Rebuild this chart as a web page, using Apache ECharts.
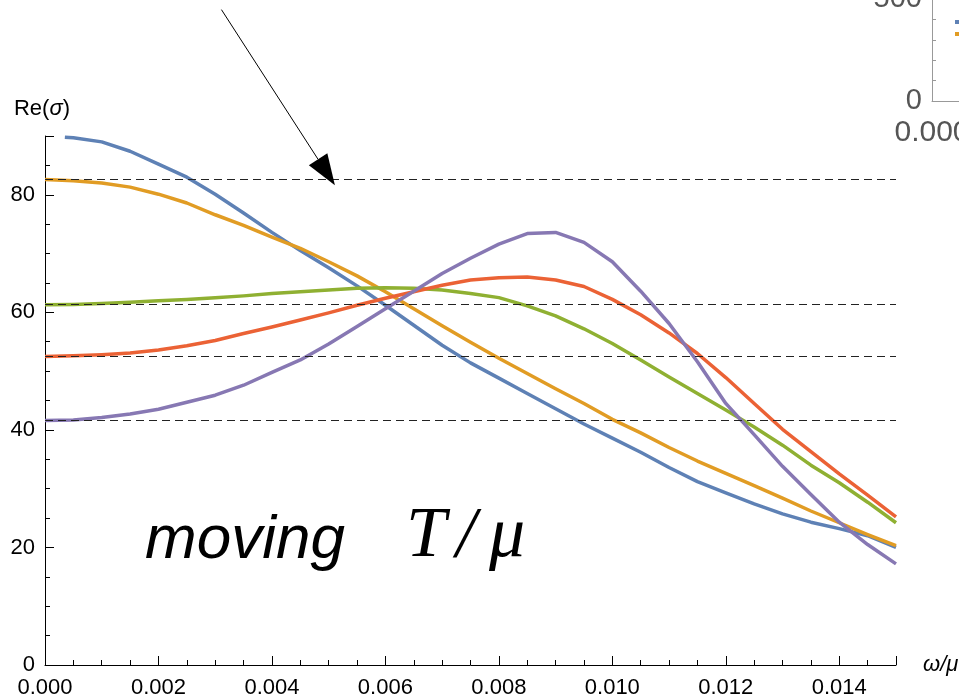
<!DOCTYPE html>
<html><head><meta charset="utf-8">
<script src="https://cdn.jsdelivr.net/npm/echarts@6/dist/echarts.min.js"></script>
<style>html,body{margin:0;padding:0;background:#fff}#c{width:959px;height:699px}</style>
</head><body><div id="c"></div>
<script>
// ---- data ----
const omega = [0,0.0005,0.001,0.0015,0.002,0.0025,0.003,0.0035,0.004,0.0045,0.005,0.0055,0.006,0.0065,0.007,0.0075,0.008,0.0085,0.009,0.0095,0.010,0.0105,0.011,0.0115,0.012,0.0125,0.013,0.0135,0.014,0.0145,0.015];
const omegaBlue = [0.00035,0.0005,0.001,0.0015,0.002,0.0025,0.003,0.0035,0.004,0.0045,0.005,0.0055,0.006,0.0065,0.007,0.0075,0.008,0.0085,0.009,0.0095,0.010,0.0105,0.011,0.0115,0.012,0.0125,0.013,0.0135,0.014,0.0145,0.015];
const blue   = [89.8,89.7,89.0,87.4,85.2,83.0,80.1,76.9,73.6,70.5,67.6,64.5,61.2,57.8,54.4,51.4,48.8,46.2,43.6,41.0,38.6,36.2,33.6,31.2,29.3,27.4,25.7,24.3,23.2,22.0,20.0];
const orange = [82.6,82.4,82.0,81.3,80.1,78.6,76.6,74.8,72.8,70.9,68.6,66.2,63.5,60.6,57.7,54.9,52.2,49.6,47.0,44.5,41.8,39.5,37.0,34.7,32.6,30.5,28.4,26.2,24.2,22.2,20.3];
const green  = [61.3,61.35,61.5,61.7,61.95,62.2,62.5,62.8,63.2,63.5,63.8,64.1,64.2,64.1,63.8,63.2,62.5,61.1,59.4,57.2,54.7,51.9,49.0,46.2,43.4,40.5,37.4,34.0,31.0,27.7,24.2];
const red    = [52.5,52.6,52.8,53.1,53.6,54.3,55.2,56.4,57.5,58.7,59.9,61.2,62.4,63.5,64.6,65.5,65.9,66.0,65.5,64.4,62.2,59.6,56.5,53.0,48.9,44.5,40.1,36.3,32.5,28.9,25.2];
const purple = [41.6,41.7,42.1,42.7,43.5,44.7,45.9,47.6,49.8,51.9,54.6,57.6,60.6,63.6,66.6,69.2,71.6,73.4,73.6,71.9,68.6,63.6,58.1,51.6,44.5,39.2,33.8,29.0,24.3,20.5,17.2];
const dashedLevels = [82.6, 61.3, 52.5, 41.6];
const xTickStep = 0.002;
const yTickStep = 20;
const insetYTicks = [0, 500];
const arrowFrom = [0.00311, 111.5];
const arrowTo = [0.00511, 81.6];

// ---- chart ----
const colors = ['#5E81B5','#E19C24','#8FB032','#EB6235','#8778B3'];
const seriesVals = [blue, orange, green, red, purple];
const seriesX = [omegaBlue, omega, omega, omega, omega];
const FONT = 'Liberation Sans';

function isMultiple(v, step){ const r = v/step; return Math.abs(r - Math.round(r)) < 1e-6; }

const chart = echarts.init(document.getElementById('c'), null, {renderer:'canvas'});
const lineSeries = seriesVals.map((vals, i) => ({
  type:'line', xAxisIndex:0, yAxisIndex:0, symbol:'none', smooth:false,
  lineStyle:{color:colors[i], width:3.5, join:'round', cap:'butt'}, itemStyle:{color:colors[i]},
  data: vals.map((v, j) => [seriesX[i][j], v]), z:2
}));

const option = {
  animation:false,
  backgroundColor:'#fff',
  grid:[
    {left:45, top:136, right:63, bottom:34, containLabel:false, outerBoundsMode:'none'},
    {left:932, top:-1, width:1000, height:102, containLabel:false, outerBoundsMode:'none'}
  ],
  xAxis:[
    {type:'value', gridIndex:0, min:0, max:0.015, interval:xTickStep,
     axisLine:{show:true, onZero:false, lineStyle:{color:'#000', width:1}},
     axisTick:{show:true, inside:true, length:9, lineStyle:{color:'#000'}},
     minorTick:{show:true, splitNumber:4, length:5, lineStyle:{color:'#000'}},
     splitLine:{show:false}, minorSplitLine:{show:false},
     axisLabel:{margin:12, fontSize:22, color:'#000', fontFamily:FONT,
       formatter:v => isMultiple(v, xTickStep) ? v.toFixed(3) : ''},
     name:'ω/μ', nameLocation:'end', nameGap:27,
     nameTextStyle:{fontSize:22, fontStyle:'italic', color:'#000', fontFamily:FONT}},
    {type:'value', gridIndex:1, min:0, max:0.015, interval:xTickStep,
     axisLine:{show:true, onZero:false, lineStyle:{color:'#999', width:1}},
     axisTick:{show:false}, splitLine:{show:false},
     axisLabel:{margin:17, fontSize:30, lineHeight:30, color:'#555', fontFamily:FONT,
       align:'center', alignMinLabel:'center', hideOverlap:false,
       formatter:v => isMultiple(v, xTickStep) ? v.toFixed(3) : ''}}
  ],
  yAxis:[
    {type:'value', gridIndex:0, min:0, max:90, interval:yTickStep,
     axisLine:{show:true, onZero:false, lineStyle:{color:'#000', width:1}},
     axisTick:{show:true, inside:true, length:9, lineStyle:{color:'#000'}},
     minorTick:{show:true, splitNumber:4, length:5, lineStyle:{color:'#000'}},
     splitLine:{show:false}, minorSplitLine:{show:false},
     axisLabel:{margin:10, fontSize:22, color:'#000', fontFamily:FONT,
       formatter:v => isMultiple(v, yTickStep) ? String(v) : ''},
     name:'{a|Re(}{b|σ}{a|)}', nameLocation:'end', nameGap:16,
     nameTextStyle:{padding:[0,6,0,0], rich:{
       a:{fontSize:22, color:'#000', fontFamily:FONT},
       b:{fontSize:22, color:'#000', fontFamily:FONT, fontStyle:'italic'}}}},
    {type:'value', gridIndex:1, min:insetYTicks[0], max:insetYTicks[1], interval:500,
     axisLine:{show:true, onZero:false, lineStyle:{color:'#999', width:1}},
     axisTick:{show:true, inside:true, length:5, lineStyle:{color:'#999'}},
     minorTick:{show:true, splitNumber:5, length:4, lineStyle:{color:'#999'}},
     splitLine:{show:false},
     axisLabel:{margin:10, fontSize:29, lineHeight:24, color:'#555', fontFamily:FONT}}
  ],
  series: lineSeries.concat([{
    type:'line', xAxisIndex:0, yAxisIndex:0, data:[], symbol:'none', z:5,
    markLine:{silent:true, symbol:'none', animation:false, label:{show:false},
      lineStyle:{color:'#222', type:[8,5], width:1.2},
      data: dashedLevels.map(v => ({yAxis:v}))}
  }])
};
chart.setOption(option);

// annotation: arrow mapped through the axes, and texts
const p0 = chart.convertToPixel({gridIndex:0}, arrowFrom);
const p1 = chart.convertToPixel({gridIndex:0}, arrowTo);
const dx = p1[0]-p0[0], dy = p1[1]-p0[1], L = Math.hypot(dx, dy);
const ux = dx/L, uy = dy/L, headLen = 31, headHalf = 11;
const bx = p1[0]-ux*headLen, by = p1[1]-uy*headLen;
chart.setOption({
  graphic:[
    {type:'line', shape:{x1:p0[0], y1:p0[1], x2:bx, y2:by}, style:{stroke:'#000', lineWidth:1}, z:10},
    {type:'polygon', shape:{points:[[p1[0],p1[1]],[bx-uy*headHalf, by+ux*headHalf],[bx+uy*headHalf, by-ux*headHalf]]}, style:{fill:'#000'}, z:10},
    {type:'text', left:145, top:510, style:{text:'moving', font:'italic 62px "Liberation Sans"', fill:'#000'}, z:10},
    {type:'text', left:406, top:501, style:{text:'T', font:'italic 72px "Liberation Serif"', fill:'#000'}, z:10},
    {type:'text', left:456, top:501, style:{text:'/', font:'italic 72px "Liberation Serif"', fill:'#000'}, z:10},
    {type:'text', left:489, top:501, style:{text:'μ', font:'italic 72px "Liberation Serif"', fill:'#000'}, z:10},
    {type:'rect', shape:{x:955, y:20, width:4, height:4}, style:{fill:'#5E81B5'}, z:10},
    {type:'rect', shape:{x:955, y:32, width:4, height:4}, style:{fill:'#E19C24'}, z:10}
  ]
});
</script></body></html>
